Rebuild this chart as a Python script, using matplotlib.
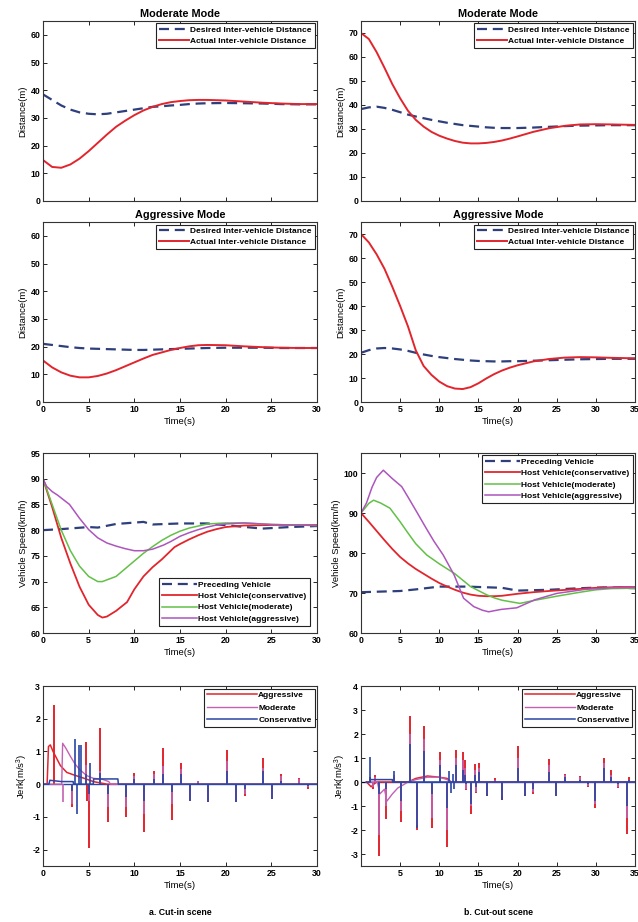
import numpy as np
import matplotlib
matplotlib.use('Agg')
import matplotlib.pyplot as plt

plt.rcParams['font.family'] = ['Liberation Sans', 'DejaVu Sans']
plt.rcParams['font.weight'] = 'bold'
plt.rcParams['mathtext.default'] = 'regular'
plt.rcParams['axes.unicode_minus'] = False

# ---------------- inter-vehicle distance ----------------
t_in = [0, 1, 2, 3, 4, 5, 6, 7, 8, 9, 10, 11, 12, 13, 14, 15, 16, 17, 18, 20, 22, 24, 26, 28, 30]
mod_in_desired = [38.5, 36.5, 34.5, 33, 32, 31.5, 31.3, 31.5, 32, 32.5, 33, 33.5, 34, 34.2, 34.5,
                  34.7, 35, 35.2, 35.3, 35.4, 35.3, 35.2, 35, 34.9, 34.9]
mod_in_actual = [14.8, 12.3, 12, 13.2, 15.3, 18, 21, 24, 26.8, 29, 31, 32.7, 34, 35, 35.7,
                 36.1, 36.4, 36.5, 36.5, 36.3, 35.9, 35.5, 35.2, 35, 35]
agg_in_desired = [21, 20.6, 20.2, 19.8, 19.5, 19.3, 19.2, 19.1, 19, 18.9, 18.8, 18.8, 18.9, 19,
                  19.1, 19.2, 19.3, 19.4, 19.5, 19.6, 19.6, 19.6, 19.5, 19.5, 19.5]
agg_in_actual = [15, 12.5, 10.7, 9.5, 8.9, 8.9, 9.4, 10.3, 11.5, 12.9, 14.3, 15.7, 17, 17.9,
                 18.8, 19.5, 20.1, 20.5, 20.6, 20.5, 20.1, 19.8, 19.6, 19.5, 19.5]

t_out = [0, 1, 2, 3, 4, 5, 6, 7, 8, 9, 10, 11, 12, 13, 14, 15, 16, 17, 18, 19, 20, 22, 24, 26, 28,
         30, 32, 35]
mod_out_desired = [38.3, 39, 39.3, 38.8, 38, 37, 36, 35.2, 34.5, 33.8, 33.2, 32.6, 32.1, 31.6,
                   31.3, 31, 30.7, 30.5, 30.4, 30.4, 30.4, 30.6, 30.9, 31.2, 31.4, 31.5, 31.6, 31.6]
mod_out_actual = [70, 67.5, 62, 55.5, 48.7, 42.8, 37.6, 33.8, 31, 28.8, 27.2, 26, 25, 24.3, 24,
                  24, 24.2, 24.6, 25.2, 26, 26.9, 28.8, 30.3, 31.3, 31.9, 32, 31.9, 31.7]
agg_out_desired = [20.5, 21.6, 22.3, 22.5, 22.3, 21.9, 21.3, 20.5, 19.8, 19.2, 18.7, 18.3, 17.9,
                   17.6, 17.3, 17.1, 17, 16.9, 16.9, 17, 17, 17.2, 17.4, 17.6, 17.8, 17.9, 18, 18]
agg_out_actual = [70, 66.5, 61.5, 55.5, 48, 40, 31.5, 21.5, 15, 11.3, 8.5, 6.6, 5.6, 5.4, 6.2,
                  7.8, 9.8, 11.6, 13.1, 14.3, 15.3, 16.9, 17.9, 18.5, 18.7, 18.6, 18.4, 18.2]

# ---------------- vehicle speed ----------------
pre_in_t = [0, 2, 5, 6, 8, 11, 12, 15, 18, 21, 24, 27, 30]
pre_in_v = [80, 80.2, 80.6, 80.5, 81.2, 81.6, 81.1, 81.3, 81.3, 80.8, 80.3, 80.6, 80.8]
con_in_t = [0, 1, 2, 3, 4, 5, 6, 6.5, 7, 8, 9.2, 10, 11, 12, 13, 14.4, 15, 16, 17, 18, 19, 20,
            22, 25, 30]
con_in_v = [90, 84.5, 78.5, 73.5, 69, 65.5, 63.5, 63, 63.2, 64.3, 66, 68.5, 71, 72.8, 74.3, 76.7,
            77.3, 78.2, 79, 79.7, 80.2, 80.6, 80.9, 81, 81]
mod_in_t = [0, 1, 2, 3, 4, 5, 6, 6.5, 8, 9, 10, 11, 12, 13, 14, 15, 16, 18, 20, 22, 25, 30]
mod_in_v = [90, 85, 80, 76, 73, 71, 70, 70, 71, 72.5, 74, 75.5, 76.8, 78, 79, 79.8, 80.4, 81.2,
            81.4, 81.4, 81.1, 80.9]
agg_in_t = [0, 0.4, 1, 1.6, 2.9, 4, 5, 6, 7, 8, 9, 10, 11, 12, 13.2, 14, 15, 16, 17, 18, 19, 20,
            22, 25, 30]
agg_in_v = [90, 88.5, 87.5, 86.8, 85, 82.3, 80.1, 78.5, 77.5, 76.9, 76.4, 76, 76, 76.3, 77.1,
            77.8, 78.8, 79.5, 80.1, 80.6, 81, 81.2, 81.4, 81.1, 80.9]

pre_out_t = [0, 5, 7, 10, 13.5, 18, 20, 24, 28, 31, 35]
pre_out_v = [70.2, 70.5, 70.9, 71.6, 71.6, 71.3, 70.6, 70.8, 71.2, 71.4, 71.2]
con_out_t = [0, 1, 2, 3, 4, 5, 6, 7, 8, 9, 10, 11, 12, 13, 14, 15, 16, 17, 18, 20, 22, 24, 27,
             30, 33, 35]
con_out_v = [90, 87.8, 85.5, 83.2, 81, 79, 77.4, 76, 74.8, 73.6, 72.5, 71.6, 70.8, 70.1, 69.6,
             69.3, 69.2, 69.2, 69.3, 69.8, 70.2, 70.5, 70.9, 71.3, 71.5, 71.5]
mod_out_t = [0, 1, 1.6, 2.5, 3.7, 5, 6, 7, 8.4, 10, 12, 14, 15, 16, 17, 18, 20.3, 22, 25, 28, 30,
             32, 35]
mod_out_v = [90, 92.4, 93.2, 92.5, 91.2, 87.8, 85, 82.3, 79.5, 77.3, 74.8, 71.6, 70.6, 69.6, 68.8,
             68.2, 67.4, 68.1, 69.2, 70.2, 70.8, 71.1, 71.2]
agg_out_t = [0, 0.7, 1.4, 2, 2.85, 4, 5.2, 6, 7.2, 8.2, 9.3, 10.5, 11.9, 13.1, 14.4, 15.5, 16.3,
             17.9, 19.9, 22.2, 25, 28.6, 32, 35]
agg_out_v = [90, 92.5, 96.4, 98.9, 100.7, 98.6, 96.6, 94, 90, 86.6, 83, 79.5, 74.5, 68.7, 66.6,
             65.7, 65.3, 65.9, 66.3, 68.3, 69.9, 70.9, 71.3, 71.4]

# ---------------- jerk, cut-in ----------------
agg_jb_in_t = [0, 0.45, 0.6, 0.8, 1.1, 1.9, 2.6, 3.3, 4.5, 5.5, 7, 30]
agg_jb_in_v = [0, 0, 1.15, 1.2, 1.0, 0.57, 0.36, 0.29, 0.18, 0.08, 0, 0]
mod_jb_in_t = [0, 2.05, 2.15, 2.5, 3, 3.5, 4, 4.8, 5.5, 6.5, 7.2, 7.4, 30]
mod_jb_in_v = [0, 0, 1.25, 1.1, 0.85, 0.62, 0.45, 0.26, 0.18, 0.15, 0.08, 0, 0]
con_jb_in_t = [0, 0.65, 0.75, 2, 3.3, 3.35, 5.5, 5.55, 8.2, 8.25, 30]
con_jb_in_v = [0, 0, 0.12, 0.08, 0.08, 0, 0, 0.16, 0.16, 0, 0]
spk_in_t = [1.2, 2.2, 3.2, 3.5, 3.7, 3.9, 4.2, 4.7, 4.85, 5.0, 5.2, 6.2, 7.1, 9.1, 10, 11.1,
            12.1, 13.1, 14.1, 15.1, 16.1, 17, 18.1, 20.1, 21.1, 22.1, 24.1, 25.1, 26.1, 28, 29]
agg_spk_in = [2.41, 0, -0.7, 0, 0, 0, 0, 1.3, -0.5, -1.96, 0, 1.71, -1.15, -1.0, 0.35, -1.45,
              0.4, 1.1, -1.1, 0.65, -0.5, 0.1, -0.55, 1.05, -0.55, -0.35, 0.8, -0.45, 0.3, 0.2,
              -0.15]
mod_spk_in = [0, -0.55, -0.6, 0, 0, 0, 0, 0.6, 0, -0.5, 0, 0.4, -0.7, -0.7, 0.25, -0.9, 0.3,
              0.55, -0.6, 0.45, -0.5, 0.1, -0.55, 0.7, -0.55, -0.3, 0.5, -0.45, 0.25, 0.15, -0.1]
con_spk_in = [0, 0, -0.2, 1.38, -0.9, 1.19, 1.2, 0.3, 0, -0.3, 0.66, 0.35, -0.3, -0.4, 0.15,
              -0.5, 0.15, 0.3, -0.25, 0.3, -0.5, 0.05, -0.55, 0.4, -0.55, -0.15, 0.4, -0.45, 0.1,
              0.05, -0.05]

# ---------------- jerk, cut-out ----------------
agg_jb_out_t = [0.7, 1.0, 1.3, 1.6, 2.0, 6.0, 7.0, 8.5, 10, 11, 11.5, 35]
agg_jb_out_v = [0, -0.1, -0.2, -0.1, 0, 0, 0.15, 0.25, 0.2, 0.15, 0, 0]
mod_jb_out_t = [0.7, 2.1, 2.4, 3.0, 3.3, 4.0, 4.7, 5.5, 6.0, 7.0, 8.5, 10, 11, 11.5, 35]
mod_jb_out_v = [0, 0, -0.5, -0.3, -0.8, -0.5, -0.25, -0.1, 0, 0.1, 0.2, 0.2, 0.1, 0, 0]
con_jb_out_t = [0.7, 1.15, 1.2, 4.0, 4.05, 35]
con_jb_out_v = [0, 0, 0.1, 0.1, 0, 0]
spk_out_t = [1.2, 1.5, 1.8, 2.3, 3.25, 4.2, 5.1, 6.2, 7.2, 8.1, 9.1, 10.05, 11.0, 11.3, 11.5,
             11.7, 11.9, 12.1, 13.0, 13.3, 13.45, 14.1, 14.6, 14.75, 15.1, 16.1, 17.1, 18.0,
             20.0, 21.0, 22.0, 24.0, 24.9, 26, 28, 29, 29.9, 31, 31.9, 32.8, 34, 34.2]
agg_spk_out = [0.2, -0.3, 0.3, -3.1, -1.55, 0.2, -1.65, 2.75, -2.0, 2.35, -1.9, 1.25, -2.7, 0,
               0, 0, 0, 1.35, 1.25, 0.9, -0.35, -1.35, 0.75, -0.45, 0.8, -0.6, 0.15, -0.75, 1.5,
               -0.6, -0.5, 0.95, -0.6, 0.35, 0.25, -0.2, -1.1, 1.0, 0.5, -0.25, -2.15, 0.2]
mod_spk_out = [0.1, -0.2, 0.2, -2.2, -1.0, 0.3, -1.2, 2.0, -1.8, 1.8, -1.5, 0.9, -2.0, 0, 0, 0,
               0, 1.0, 0.9, 0.6, -0.3, -1.0, 0.5, -0.4, 0.6, -0.5, 0.1, -0.6, 1.0, -0.5, -0.4,
               0.7, -0.6, 0.3, 0.2, -0.15, -0.9, 0.8, 0.3, -0.2, -1.5, 0.1]
con_spk_out = [1.05, 0, 0, -0.5, -0.3, 0.45, -0.8, 1.6, -1.9, 1.3, -0.5, 0.7, -1.1, 0.45, -0.45,
               0.35, -0.3, 0.7, 0.5, 0.3, -0.1, -0.9, 0.3, -0.2, 0.4, -0.6, 0.05, -0.75, 0.6,
               -0.6, -0.3, 0.4, -0.6, 0.2, 0.1, -0.1, -0.8, 0.6, 0.2, -0.1, -1.0, 0.1]

NAVY = '#2e3f7c'
RED = '#e2252d'
GREEN = '#62c047'
PURPLE = '#ad55bd'
PINK = '#c262b2'
BLUE = '#2a45a3'
DASH = (0, (4.5, 2.6))

fig = plt.figure(figsize=(6.38, 9.22), dpi=100)

xl = [43 / 638, 361 / 638]
w = 274 / 638
h = 180 / 922
bottoms = [1 - 201 / 922, 1 - 402 / 922, 1 - 633 / 922, 1 - 866 / 922]


def style(ax, xmax, xlabels=True, xmin=0):
    ax.set_xlim(xmin, xmax)
    ax.set_xticks(np.arange(0, xmax + 1, 5))
    ax.tick_params(direction='in', top=True, right=True, length=3, width=0.6,
                   labelsize=6.3, pad=2)
    if not xlabels:
        ax.tick_params(labelbottom=False)
    for s in ax.spines.values():
        s.set_linewidth(0.8)
        s.set_color('#333333')


def legend(ax, loc, hl=3.8, ls=0.45, pad=0.3):
    lg = ax.legend(loc=loc, fontsize=6.0, handlelength=hl, handletextpad=0.15,
                   borderpad=0.35, labelspacing=ls, fancybox=False, framealpha=1,
                   borderaxespad=pad)
    lg.get_frame().set_edgecolor('#222222')
    lg.get_frame().set_linewidth(0.8)
    return lg


def dist_panel(ax, t, desired, actual, title, xmax, ymax, yticks, xlabels):
    ax.plot(t, desired, color=NAVY, lw=1.6, ls=DASH, label='Desired Inter-vehicle Distance')
    ax.plot(t, actual, color=RED, lw=1.4, label='Actual Inter-vehicle Distance')
    style(ax, xmax, xlabels)
    ax.set_ylim(0, ymax)
    ax.set_yticks(yticks)
    ax.set_title(title, fontsize=7.8, fontweight='bold', pad=3)
    ax.set_ylabel('Distance(m)', fontsize=6.8, labelpad=2)
    if xlabels:
        ax.set_xlabel('Time(s)', fontsize=6.8, labelpad=2)
    legend(ax, 'upper right', hl=3.6, ls=0.4)


axes = [[fig.add_axes([xl[c], bottoms[r], w, h]) for c in range(2)] for r in range(4)]

dist_panel(axes[0][0], t_in, mod_in_desired, mod_in_actual, 'Moderate Mode', 30, 65,
           np.arange(0, 61, 10), False)
dist_panel(axes[0][1], t_out, mod_out_desired, mod_out_actual, 'Moderate Mode', 35, 75,
           np.arange(0, 71, 10), False)
dist_panel(axes[1][0], t_in, agg_in_desired, agg_in_actual, 'Aggressive Mode', 30, 65,
           np.arange(0, 61, 10), True)
dist_panel(axes[1][1], t_out, agg_out_desired, agg_out_actual, 'Aggressive Mode', 35, 75,
           np.arange(0, 71, 10), True)

# speed panels
speed_sets = [
    (axes[2][0], pre_in_t, pre_in_v, con_in_t, con_in_v, mod_in_t, mod_in_v, agg_in_t, agg_in_v,
     30, (60, 95), np.arange(60, 96, 5), 'lower right', 0.9),
    (axes[2][1], pre_out_t, pre_out_v, con_out_t, con_out_v, mod_out_t, mod_out_v, agg_out_t,
     agg_out_v, 35, (60, 105), np.arange(60, 101, 10), 'upper right', 0.3),
]
for ax, pt, pv, ct, cv, mt, mv, at, av, xmax, ylim, yt, loc, bap in speed_sets:
    ax.plot(pt, pv, color=NAVY, lw=1.6, ls=DASH, label='Preceding Vehicle')
    ax.plot(ct, cv, color=RED, lw=1.3, label='Host Vehicle(conservative)')
    ax.plot(mt, mv, color=GREEN, lw=1.1, label='Host Vehicle(moderate)')
    ax.plot(at, av, color=PURPLE, lw=1.1, label='Host Vehicle(aggressive)')
    style(ax, xmax)
    ax.set_ylim(*ylim)
    ax.set_yticks(yt)
    ax.set_ylabel('Vehicle Speed(km/h)', fontsize=6.8, labelpad=2)
    ax.set_xlabel('Time(s)', fontsize=6.8, labelpad=2)
    legend(ax, loc, hl=4.2, ls=0.4, pad=bap)

# jerk panels
jerk_sets = [
    (axes[3][0], agg_jb_in_t, agg_jb_in_v, mod_jb_in_t, mod_jb_in_v, con_jb_in_t, con_jb_in_v,
     spk_in_t, agg_spk_in, mod_spk_in, con_spk_in, 0, 30, (-2.5, 3), np.arange(-2, 4, 1),
     'a. Cut-in scene'),
    (axes[3][1], agg_jb_out_t, agg_jb_out_v, mod_jb_out_t, mod_jb_out_v, con_jb_out_t,
     con_jb_out_v, spk_out_t, agg_spk_out, mod_spk_out, con_spk_out, 0.67, 35, (-3.5, 4),
     np.arange(-3, 5, 1), 'b. Cut-out scene'),
]
for (ax, at, av, mt, mv, ct, cv, st, sa, sm, sc, xmin, xmax, ylim, yt, cap) in jerk_sets:
    ax.plot(at, av, color=RED, lw=1.1, label='Aggressive')
    ax.vlines(st, 0, sa, color=RED, lw=1.4)
    ax.plot(mt, mv, color=PINK, lw=1.0, label='Moderate')
    ax.vlines(st, 0, sm, color=PINK, lw=1.2)
    ax.plot(ct, cv, color=BLUE, lw=1.1, label='Conservative')
    ax.vlines(st, 0, sc, color=BLUE, lw=1.2)
    ax.axhline(0, color=BLUE, lw=1.0, zorder=1)
    style(ax, xmax, xmin=xmin)
    if xmin > 0:
        ax.set_xticks(np.arange(5, xmax + 1, 5))
    ax.set_ylim(*ylim)
    ax.set_yticks(yt)
    ax.set_ylabel(r'Jerk(m/s$^3$)', fontsize=6.8, labelpad=2)
    ax.set_xlabel('Time(s)', fontsize=6.8, labelpad=2)
    legend(ax, 'upper right', hl=6.0, ls=0.55)
    ax.text(0.5, -0.235, cap, transform=ax.transAxes, ha='center', va='top', fontsize=6.3)

fig.savefig('out.png', dpi=100)
